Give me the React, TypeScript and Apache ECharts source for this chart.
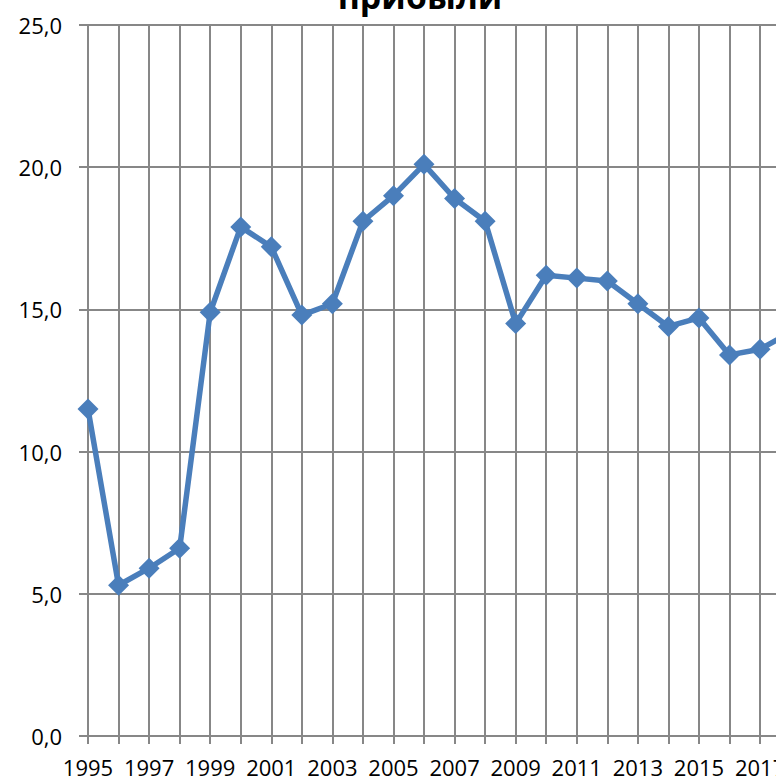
import React, { useEffect, useRef } from "react";
import * as echarts from "echarts";

const years: string[] = [
  "1995", "1996", "1997", "1998", "1999", "2000", "2001", "2002", "2003", "2004",
  "2005", "2006", "2007", "2008", "2009", "2010", "2011", "2012", "2013", "2014",
  "2015", "2016", "2017", "2018",
];
const values: number[] = [
  11.5, 5.3, 5.9, 6.6, 14.9, 17.9, 17.2, 14.8, 15.2, 18.1,
  19.0, 20.1, 18.9, 18.1, 14.5, 16.2, 16.1, 16.0, 15.2, 14.4,
  14.7, 13.4, 13.6, 14.2,
];
const titleText = "прибыли";
const yMin = 0;
const yMax = 25;
const yStep = 5;

const FONT = "'Open Sans', sans-serif";
const GRID = "#878787";

export default function App() {
  const ref = useRef<HTMLDivElement>(null);
  useEffect(() => {
    if (!ref.current) return;
    const chart = echarts.init(ref.current, undefined, { renderer: "svg" });
    chart.setOption({
      animation: false,
      backgroundColor: "#ffffff",
      title: {
        text: titleText,
        left: "center",
        top: -26,
        textStyle: { fontFamily: FONT, fontWeight: "bold", fontSize: 34, color: "#000" },
      },
      grid: { left: 88, right: 49.4, top: 25, bottom: 45, containLabel: false },
      xAxis: {
        type: "category",
        data: years,
        boundaryGap: false,
        axisLine: { lineStyle: { color: GRID, width: 2 } },
        axisTick: { show: true, interval: 0, length: 8, lineStyle: { color: GRID, width: 2 } },
        axisLabel: {
          interval: 1,
          margin: 21,
          fontFamily: FONT,
          fontSize: 22,
          lineHeight: 20,
          color: "#000",
        },
        splitLine: { show: true, interval: 0, lineStyle: { color: GRID, width: 2 } },
      },
      yAxis: {
        type: "value",
        min: yMin,
        max: yMax,
        interval: yStep,
        axisLine: { show: true, lineStyle: { color: GRID, width: 2 } },
        axisTick: { show: true, length: 9, lineStyle: { color: GRID, width: 2 } },
        axisLabel: {
          margin: 26,
          fontFamily: FONT,
          fontSize: 22,
          color: "#000",
          formatter: (v: number) => v.toFixed(1).replace(".", ","),
        },
        splitLine: { show: true, lineStyle: { color: GRID, width: 2 } },
      },
      series: [
        {
          type: "line",
          data: values,
          symbol: "diamond",
          symbolSize: 21,
          showAllSymbol: true,
          lineStyle: { color: "#4A7EBB", width: 5.5 },
          itemStyle: { color: "#4A7EBB" },
          clip: false,
        },
      ],
    });
    return () => chart.dispose();
  }, []);
  return (
    <div style={{ position: "fixed", left: 0, top: 0, width: 776, height: 781, overflow: "hidden", background: "#fff" }}>
      <div ref={ref} style={{ position: "absolute", left: 0, top: 0, width: 840, height: 781 }} />
    </div>
  );
}
